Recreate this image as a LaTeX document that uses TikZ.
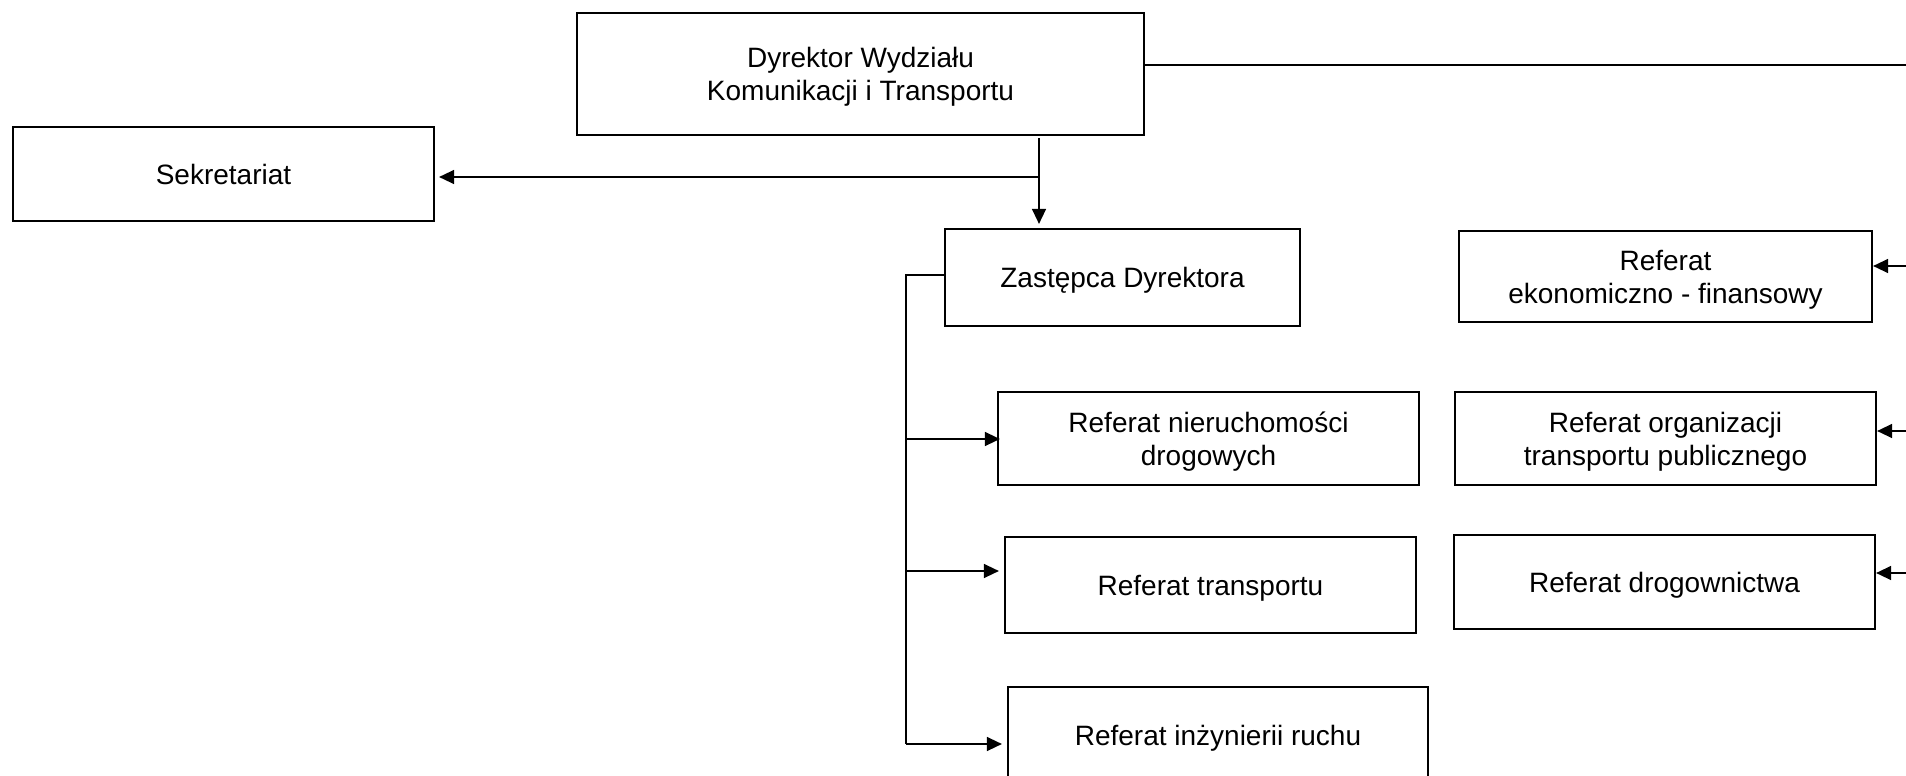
\documentclass[tikz,border=0pt]{standalone}
\usepackage{fontspec}
\setmainfont{Liberation Sans}
\usetikzlibrary{arrows.meta}
\newcommand\mystrut{\rule[-6pt]{0pt}{32.5pt}}
\begin{document}
\begin{tikzpicture}[x=1pt,y=-1pt,
  box/.style={draw=black,line width=2.2pt,rectangle,inner sep=0pt,align=center,
    font=\fontsize{28}{33}\selectfont},
  conn/.style={line width=1.4pt},
  arr/.style={conn,-{Triangle[length=15pt,width=14pt]}}]
\useasboundingbox (0,0) rectangle (1906,776);
\clip (0,0) rectangle (1906,776);
% boxes
\node[box,minimum width=567pt,minimum height=122pt] (dyr) at (860.5,74) {\mystrut Dyrektor Wydziału\\\mystrut Komunikacji i Transportu};
\node[box,minimum width=421pt,minimum height=94pt] (sek) at (223.5,174) {\mystrut Sekretariat};
\node[box,minimum width=355pt,minimum height=97pt] (zast) at (1122.5,277.5) {\mystrut Zastępca Dyrektora};
\node[box,minimum width=421pt,minimum height=93pt] (nier) at (1208.5,438.5) {\mystrut Referat nieruchomości\\\mystrut drogowych};
\node[box,minimum width=411pt,minimum height=96pt] (trans) at (1210.5,585) {\mystrut Referat transportu};
\node[box,minimum width=420pt,minimum height=96pt] (inz) at (1218,735) {\mystrut Referat inżynierii ruchu};
\node[box,minimum width=413pt,minimum height=91pt] (ekon) at (1665.5,276.5) {\mystrut Referat\\\mystrut ekonomiczno - finansowy};
\node[box,minimum width=421pt,minimum height=93pt] (org) at (1665.5,438.5) {\mystrut Referat organizacji\\\mystrut transportu publicznego};
\node[box,minimum width=421pt,minimum height=94pt] (drog) at (1664.5,582) {\mystrut Referat drogownictwa};
% director connectors
\coordinate (top) at (1906,65);
\draw[conn] (dyr.east |- top) -- (top);
\coordinate (j) at (1039,177);
\draw[arr,shorten <=2pt,shorten >=4pt] (j |- dyr.south) -- (j |- zast.north);
\draw[arr,shorten >=4pt] (j) -- (j -| sek.east);
% deputy trunk
\coordinate (t0) at (906,275);
\coordinate (t1) at (906,439);
\coordinate (t2) at (906,571);
\coordinate (t3) at (906,744);
\draw[conn] (t0 -| zast.west) -- (t0) -- (t3);
\draw[arr,shorten >=-3pt] (t1) -- (t1 -| nier.west);
\draw[arr,shorten >=5pt] (t2) -- (t2 -| trans.west);
\draw[arr,shorten >=5pt] (t3) -- (t3 -| inz.west);
% right column connectors
\coordinate (r1) at (1906,266);
\coordinate (r2) at (1906,431);
\coordinate (r3) at (1906,573);
\draw[arr] (r1) -- (r1 -| ekon.east);
\draw[arr] (r2) -- (r2 -| org.east);
\draw[arr] (r3) -- (r3 -| drog.east);
\end{tikzpicture}
\end{document}
